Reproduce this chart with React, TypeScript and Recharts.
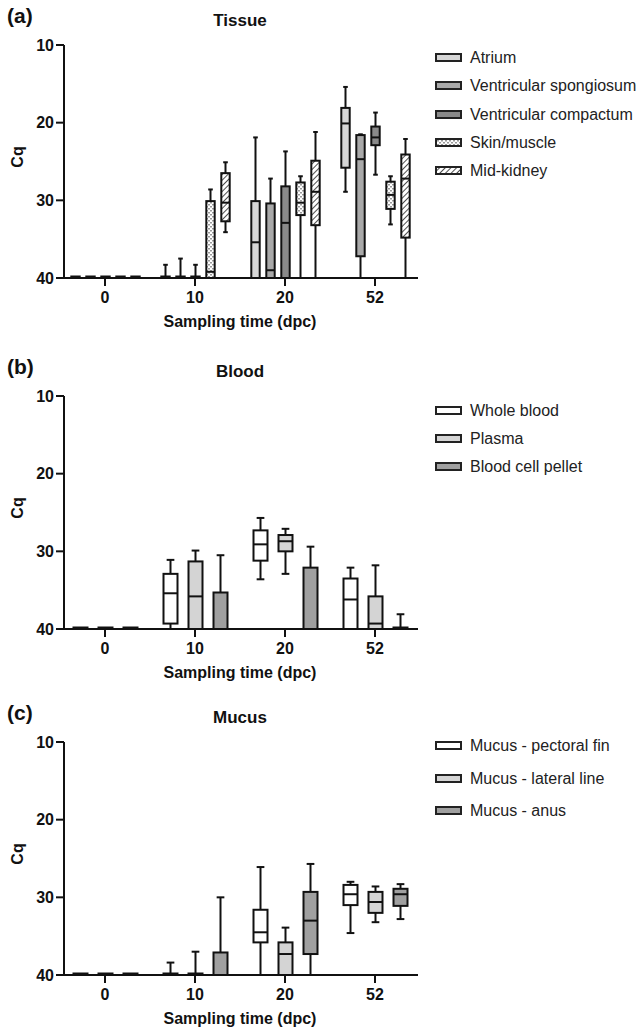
import React from 'react';
import { ComposedChart, Bar, XAxis, YAxis, Legend } from 'recharts';

const FONT = "'Liberation Sans', Arial, Helvetica, sans-serif";

const categories = ['0', '10', '20', '52'];
const Y_DOMAIN: [number, number] = [10, 40];
const yTicks = [10, 20, 30, 40];

// each entry per category: [whisker min Cq, box low Cq (Q1), median, box high Cq (Q3), whisker max Cq]
// (a) Tissue
const atrium = [
  [40, 40, 40, 40, 40],
  [38.3, 40, 40, 40, 40],
  [21.9, 30.1, 35.4, 40, 40],
  [15.4, 18.1, 20.1, 25.8, 28.9],
];
const spongiosum = [
  [40, 40, 40, 40, 40],
  [37.5, 40, 40, 40, 40],
  [27.2, 30.4, 39.0, 40, 40],
  [21.5, 21.6, 24.7, 37.2, 40],
];
const compactum = [
  [40, 40, 40, 40, 40],
  [38.3, 40, 40, 40, 40],
  [23.7, 28.2, 32.9, 40, 40],
  [18.7, 20.5, 21.9, 22.9, 26.7],
];
const skinMuscle = [
  [40, 40, 40, 40, 40],
  [28.6, 30.1, 39.2, 40, 40],
  [26.9, 27.7, 30.3, 31.9, 40],
  [26.9, 27.6, 29.3, 31.1, 33.1],
];
const midKidney = [
  [40, 40, 40, 40, 40],
  [25.1, 26.5, 30.3, 32.7, 34.1],
  [21.2, 24.9, 28.9, 33.2, 40],
  [22.1, 24.1, 27.2, 34.8, 40],
];

// (b) Blood
const wholeBlood = [
  [40, 40, 40, 40, 40],
  [31.1, 32.9, 35.4, 39.3, 40],
  [25.7, 27.3, 29.1, 31.2, 33.6],
  [32.1, 33.5, 36.2, 40, 40],
];
const plasma = [
  [40, 40, 40, 40, 40],
  [29.9, 31.3, 35.8, 40, 40],
  [27.1, 27.9, 28.7, 30.0, 32.9],
  [31.8, 35.8, 39.3, 40, 40],
];
const cellPellet = [
  [40, 40, 40, 40, 40],
  [30.5, 35.3, 40, 40, 40],
  [29.4, 32.1, 40, 40, 40],
  [38.1, 40, 40, 40, 40],
];

// (c) Mucus
const pectoralFin = [
  [40, 40, 40, 40, 40],
  [38.4, 40, 40, 40, 40],
  [26.1, 31.6, 34.5, 35.8, 40],
  [28.0, 28.4, 29.6, 31.0, 34.6],
];
const lateralLine = [
  [40, 40, 40, 40, 40],
  [37.0, 40, 40, 40, 40],
  [33.9, 35.8, 37.3, 40, 40],
  [28.6, 29.3, 30.6, 32.0, 33.2],
];
const anus = [
  [40, 40, 40, 40, 40],
  [30.0, 37.1, 40, 40, 40],
  [25.7, 29.3, 33.0, 37.3, 40],
  [28.3, 28.9, 29.6, 31.1, 32.8],
];

type Series = { key: string; name: string; fill: string; values: number[][] };

const tissueSeries: Series[] = [
  { key: 'atrium', name: 'Atrium', fill: '#d6d6d6', values: atrium },
  { key: 'spongiosum', name: 'Ventricular spongiosum', fill: '#a9a9a9', values: spongiosum },
  { key: 'compactum', name: 'Ventricular compactum', fill: '#8a8a8a', values: compactum },
  { key: 'skin', name: 'Skin/muscle', fill: 'url(#skinPattern)', values: skinMuscle },
  { key: 'kidney', name: 'Mid-kidney', fill: 'url(#hatchPattern)', values: midKidney },
];
const bloodSeries: Series[] = [
  { key: 'whole', name: 'Whole blood', fill: '#ffffff', values: wholeBlood },
  { key: 'plasma', name: 'Plasma', fill: '#d4d4d4', values: plasma },
  { key: 'pellet', name: 'Blood cell pellet', fill: '#a0a0a0', values: cellPellet },
];
const mucusSeries: Series[] = [
  { key: 'pectoral', name: 'Mucus - pectoral fin', fill: '#ffffff', values: pectoralFin },
  { key: 'lateral', name: 'Mucus - lateral line', fill: '#d4d4d4', values: lateralLine },
  { key: 'anus', name: 'Mucus - anus', fill: '#a0a0a0', values: anus },
];

// each row holds, per series, the five box statistics plus the full axis range
// used as the bar extent so the shape can map values through the bar geometry
const buildRows = (series: Series[]) =>
  categories.map((cat, i) => {
    const row: any = { cat };
    series.forEach((s) => {
      row[s.key] = s.values[i];
      row[`${s.key}Range`] = [Y_DOMAIN[0], Y_DOMAIN[1]];
    });
    return row;
  });

function makeBoxShape(key: string, boxFrac: number) {
  return (props: any) => {
    const { x, y, width, height, payload, fill } = props;
    const stats: number[] | undefined = payload?.[key];
    if (!stats || x == null || y == null) return <g />;
    const [lo, hi] = Y_DOMAIN;
    const top = Math.min(y, y + height);
    const span = Math.abs(height);
    const pix = (v: number) => top + ((v - lo) / (hi - lo)) * span;
    const cx = x + width / 2;
    const bw = width * boxFrac;
    const cap = bw * 0.55;
    const [wMin, q1, med, q3, wMax] = stats;
    const yMin = pix(wMin);
    const yQ1 = pix(q1);
    const yMed = pix(med);
    const yQ3 = pix(q3);
    const yMax = pix(wMax);
    const sw = 2;
    const stroke = '#111';
    const parts: React.ReactNode[] = [];
    if (yQ1 - yMin > 0.5) {
      parts.push(<line key="wt" x1={cx} x2={cx} y1={yMin} y2={yQ1} stroke={stroke} strokeWidth={sw} />);
      parts.push(<line key="ct" x1={cx - cap / 2} x2={cx + cap / 2} y1={yMin} y2={yMin} stroke={stroke} strokeWidth={sw} />);
    }
    if (yMax - yQ3 > 0.5) {
      parts.push(<line key="wb" x1={cx} x2={cx} y1={yQ3} y2={yMax} stroke={stroke} strokeWidth={sw} />);
      if (wMax < hi - 0.01) {
        parts.push(<line key="cb" x1={cx - cap / 2} x2={cx + cap / 2} y1={yMax} y2={yMax} stroke={stroke} strokeWidth={sw} />);
      }
    }
    if (yQ3 - yQ1 > 0.5) {
      parts.push(
        <rect key="box" x={cx - bw / 2} y={yQ1} width={bw} height={yQ3 - yQ1} fill={fill} stroke={stroke} strokeWidth={sw} />
      );
      parts.push(<line key="med" x1={cx - bw / 2} x2={cx + bw / 2} y1={yMed} y2={yMed} stroke={stroke} strokeWidth={sw} />);
    } else {
      parts.push(
        <line key="flat" x1={cx - bw / 2 - 1} x2={cx + bw / 2 + 1} y1={yQ1 - 1.5} y2={yQ1 - 1.5} stroke={stroke} strokeWidth={2} />
      );
    }
    return <g>{parts}</g>;
  };
}

const makeLegend = (series: Series[], rowH: number) => () => (
  <div style={{ fontFamily: FONT }}>
    {series.map((s) => (
      <div key={s.key} style={{ height: rowH, display: 'flex', alignItems: 'center' }}>
        <svg width={28} height={10} style={{ marginRight: 7, flex: 'none' }}>
          <rect x={1} y={1} width={25} height={7} fill={s.fill} stroke="#222" strokeWidth={2} />
        </svg>
        <span style={{ fontSize: 16, color: '#222', whiteSpace: 'nowrap' }}>{s.name}</span>
      </div>
    ))}
  </div>
);

const H = 335;

type PanelProps = {
  top: number;
  letter: string;
  title: string;
  series: Series[];
  barSize: number;
  boxFrac: number;
  legendTop: number;
  legendRow: number;
};

function Panel({ top, letter, title, series, barSize, boxFrac, legendTop, legendRow }: PanelProps) {
  const rows = buildRows(series);
  const textBase: React.CSSProperties = {
    position: 'absolute',
    fontFamily: FONT,
    fontWeight: 700,
    color: '#111',
    whiteSpace: 'nowrap',
    lineHeight: 1,
    pointerEvents: 'none',
  };
  return (
    <div style={{ position: 'absolute', left: 0, top, width: 643, height: H }}>
      <ComposedChart
        width={643}
        height={H}
        data={rows}
        margin={{ top: 45, right: 225, bottom: H - 278 - 30, left: 4 }}
        barSize={barSize}
        barGap={0}
        barCategoryGap={0}
        style={{ fontFamily: FONT }}
      >
        <defs>
          <pattern id="hatchPattern" width="4" height="4" patternUnits="userSpaceOnUse" patternTransform="rotate(45)">
            <rect width="4" height="4" fill="#ffffff" />
            <line x1="0" y1="0" x2="0" y2="4" stroke="#222" strokeWidth="1.6" />
          </pattern>
          <pattern id="skinPattern" width="4" height="4" patternUnits="userSpaceOnUse">
            <rect width="4" height="4" fill="#ffffff" />
            <rect x="0" y="0" width="2" height="1.5" fill="#9a9a9a" />
            <rect x="2" y="2" width="2" height="1.5" fill="#9a9a9a" />
          </pattern>
        </defs>
        <XAxis
          dataKey="cat"
          type="category"
          height={30}
          padding={{ left: -4, right: -2 }}
          tickSize={8}
          tickMargin={6}
          axisLine={{ stroke: '#111', strokeWidth: 2 }}
          tickLine={{ stroke: '#111', strokeWidth: 2 }}
          tick={{ fontSize: 16, fontWeight: 700, fill: '#111', fontFamily: FONT }}
          interval={0}
        />
        <YAxis
          type="number"
          domain={Y_DOMAIN}
          ticks={yTicks}
          reversed
          allowDataOverflow
          width={60}
          tickSize={8}
          tickMargin={2}
          axisLine={{ stroke: '#111', strokeWidth: 2 }}
          tickLine={{ stroke: '#111', strokeWidth: 2 }}
          tick={{ fontSize: 16, fontWeight: 700, fill: '#111', fontFamily: FONT }}
        />
        <Legend
          layout="vertical"
          align="center"
          verticalAlign="middle"
          content={makeLegend(series, legendRow)}
          wrapperStyle={{ left: 435, top: legendTop - legendRow / 2, width: 208 }}
        />
        {series.map((s) => (
          <Bar
            key={s.key}
            dataKey={`${s.key}Range`}
            name={s.name}
            fill={s.fill}
            shape={makeBoxShape(s.key, boxFrac)}
            isAnimationActive={false}
          />
        ))}
      </ComposedChart>
      <div style={{ ...textBase, left: 7, top: 15, fontSize: 21, transform: 'translateY(-50%)' }}>{letter}</div>
      <div style={{ ...textBase, left: 240, top: 20, fontSize: 17, transform: 'translate(-50%,-50%)' }}>{title}</div>
      <div style={{ ...textBase, left: 18, top: 157, fontSize: 16, transform: 'translate(-50%,-50%) rotate(-90deg)' }}>Cq</div>
      <div style={{ ...textBase, left: 240, top: 322, fontSize: 16, transform: 'translate(-50%,-50%)' }}>
        Sampling time (dpc)
      </div>
    </div>
  );
}

export default function App() {
  return (
    <div style={{ position: 'absolute', left: 0, top: 0, width: 643, height: 1034, background: '#fff', overflow: 'hidden' }}>
      <Panel top={0} letter="(a)" title="Tissue" series={tissueSeries} barSize={15} boxFrac={0.56} legendTop={58} legendRow={28.3} />
      <Panel top={351} letter="(b)" title="Blood" series={bloodSeries} barSize={25} boxFrac={0.56} legendTop={60} legendRow={28} />
      <Panel top={697} letter="(c)" title="Mucus" series={mucusSeries} barSize={25} boxFrac={0.56} legendTop={49} legendRow={32.5} />
    </div>
  );
}
